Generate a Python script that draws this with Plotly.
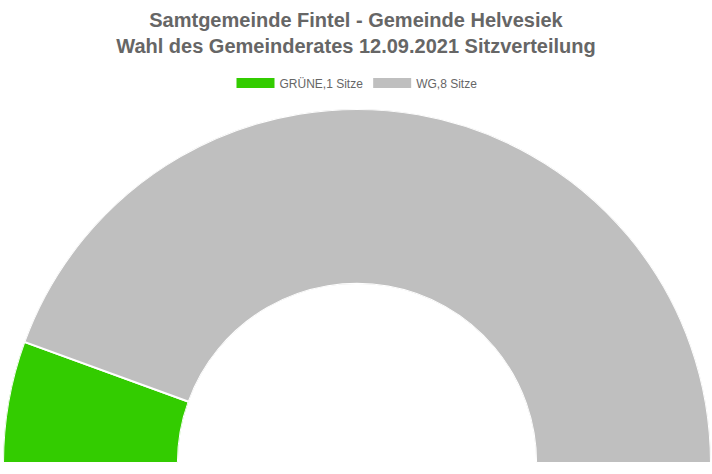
import plotly.graph_objects as go

parties = ["GRÜNE", "WG"]
seats = [1, 8]
colors = ["#33cc00", "#bfbfbf"]
legend_labels = [f"{p},{s} Sitze" for p, s in zip(parties, seats)]

total = sum(seats)
# angles (counter-clockwise from the right); GRÜNE placed on the left end
fig = go.Figure()
start = 180.0
for p, s, c in zip(parties, seats, colors):
    width = s / total * 180.0
    center = start - width / 2
    start -= width
    fig.add_trace(go.Barpolar(
        r=[1], theta=[center], width=[width], base=[0],
        marker=dict(color=c, line=dict(color="white", width=2)),
        name=p, legendgroup=p, showlegend=False, hoverinfo="skip",
    ))

for lab, p, c in zip(legend_labels, parties, colors):
    fig.add_trace(go.Scatterpolar(
        r=[None], theta=[None], mode="lines",
        line=dict(color=c, width=11),
        name=lab, legendgroup=p, showlegend=True,
    ))

fig.update_layout(
    width=712, height=474,
    paper_bgcolor="white", plot_bgcolor="white",
    margin=dict(l=3, r=1, t=109, b=11),
    font=dict(family="Liberation Sans, Arial, sans-serif", color="#666666"),
    title=dict(
        text="<b>Samtgemeinde Fintel - Gemeinde Helvesiek<br>Wahl des Gemeinderates 12.09.2021 Sitzverteilung</b>",
        x=0.5, xanchor="center", y=1 - 27 / 474, yanchor="middle", yref="container",
        font=dict(size=20, color="#666666"),
    ),
    legend=dict(
        orientation="h", x=0.5, xanchor="center", y=1 + 26 / 354, yanchor="middle",
        font=dict(size=12, color="#666666"), itemwidth=38,
        bgcolor="rgba(0,0,0,0)",
    ),
    polar=dict(
        sector=[0, 180], hole=0.506, bgcolor="white",
        domain=dict(x=[0, 1], y=[0, 1]),
        radialaxis=dict(range=[0, 1], visible=False, showgrid=False, showline=False, showticklabels=False, ticks=""),
        angularaxis=dict(visible=False, showgrid=False, showline=False, showticklabels=False, ticks=""),
    ),
    bargap=0,
)

fig.write_html(
    "out.html",
    config={"displayModeBar": False},
    post_script="document.body.style.margin='0';document.body.style.overflow='hidden';",
)
